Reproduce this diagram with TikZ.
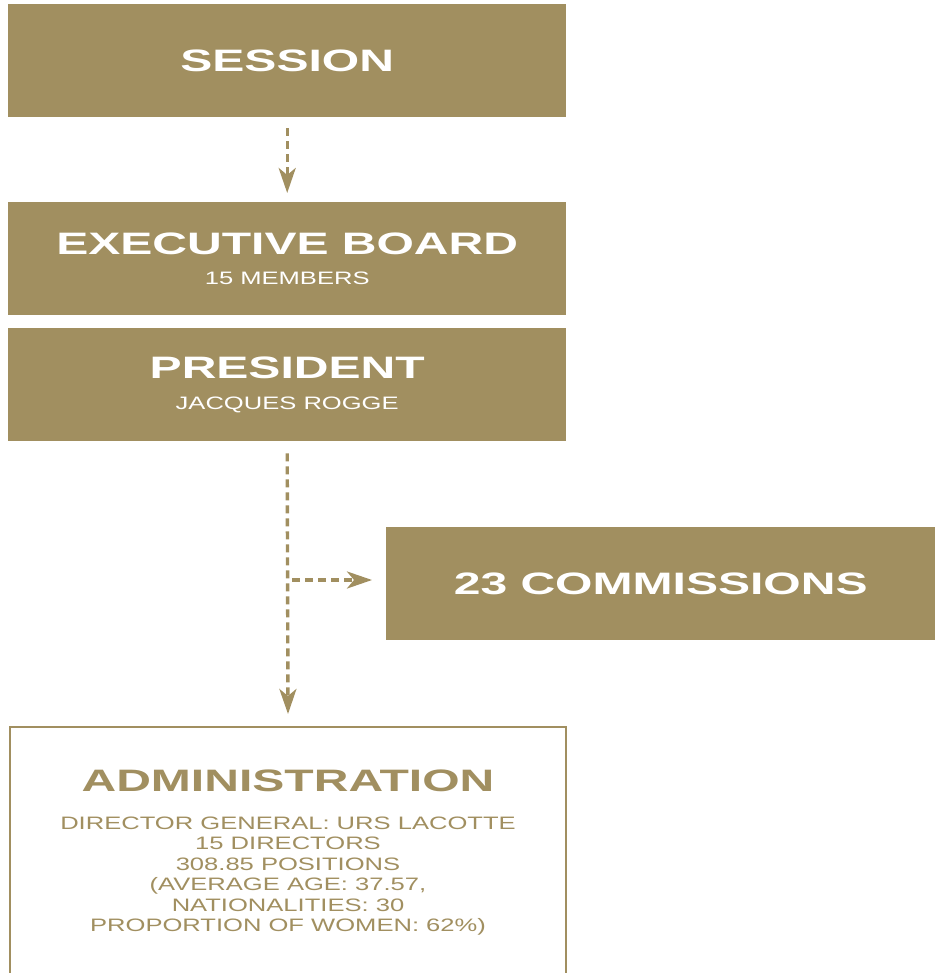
\documentclass[tikz,border=0pt]{standalone}
\usepackage{fontspec}
\usepackage{xcolor}
\usetikzlibrary{arrows.meta}

\newfontfamily\headfont[FakeStretch=1.55]{Liberation Sans}
\newfontfamily\subfont[FakeStretch=1.42]{Liberation Sans}
\definecolor{olympicgold}{RGB}{161,143,96}

\newcommand{\boxtitle}[1]{{\headfont\bfseries\fontsize{31}{33}\selectfont #1}}
\newcommand{\boxsub}[1]{{\subfont\fontsize{18}{20.5}\selectfont #1}}

\tikzset{
  goldbox/.style={fill=olympicgold, text=white, anchor=north west, inner sep=0pt,
    minimum width=558pt, minimum height=113pt, align=center,
    font=\fontsize{18}{20.5}\selectfont},
  flow/.style={draw=olympicgold, line width=3.4pt, dash pattern=on 8pt off 5pt,
    -{Stealth[length=25pt,width=17pt,inset=7pt]}},
}

\begin{document}
\begin{tikzpicture}[x=1pt, y=-1pt]
  \useasboundingbox (0,0) rectangle (935,973);
  \clip (0,0) rectangle (935,973);

  % the boxes
  \node[goldbox] (session) at (8,4) {\boxtitle{SESSION}};
  \node[goldbox] (board) at (8,202) {\boxtitle{EXECUTIVE BOARD}\\[10pt]\boxsub{15 MEMBERS}};
  \node[goldbox] (president) at (8,328) {\boxtitle{PRESIDENT}\\[10pt]\boxsub{JACQUES ROGGE}};
  \node[goldbox, minimum width=549pt] (commissions) at (386,527) {\boxtitle{23 COMMISSIONS}};

  % administration, open at the bottom
  \node[draw=olympicgold, line width=2pt, fill=white, anchor=north west,
    minimum width=556pt, minimum height=270pt] (admin) at (9,726) {};
  \node[text=olympicgold, align=center, anchor=north, inner sep=0pt,
    font=\fontsize{18}{20.5}\selectfont] (admintext) at ([yshift=-44pt]admin.north)
    {\boxtitle{ADMINISTRATION}\\[17pt]
     \boxsub{DIRECTOR GENERAL: URS LACOTTE}\\
     \boxsub{15 DIRECTORS}\\
     \boxsub{308.85 POSITIONS}\\
     \boxsub{(AVERAGE AGE: 37.57,}\\
     \boxsub{NATIONALITIES: 30}\\
     \boxsub{PROPORTION OF WOMEN: 62\%)}};

  % connectors
  \coordinate (split) at (292,580);
  \draw[flow] ([yshift=-11pt]session.south) -- ([yshift=9pt]board.north);
  \draw[flow] ([yshift=-12pt]president.south) -- ([yshift=12pt]admin.north);
  \draw[flow] (split) -- ([xshift=-14pt]split -| commissions.west);
\end{tikzpicture}
\end{document}
